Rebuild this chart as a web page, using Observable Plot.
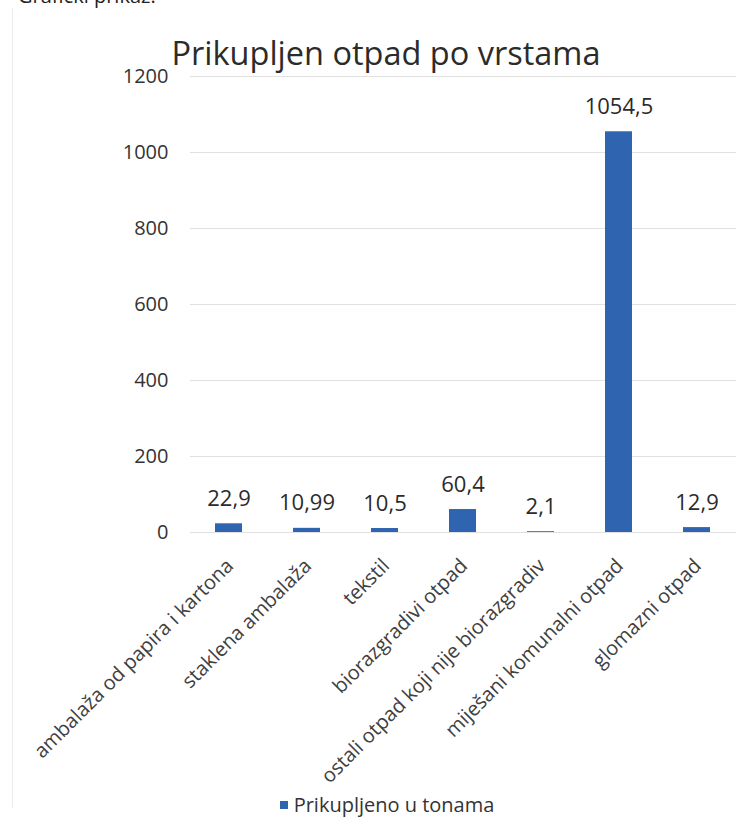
<!DOCTYPE html>
<html>
<head>
<meta charset="utf-8">
<script src="https://cdn.jsdelivr.net/npm/d3@7"></script>
<script src="https://cdn.jsdelivr.net/npm/@observablehq/plot@0.6"></script>
<style>
  html, body { margin: 0; padding: 0; background: #fff; }
  body { width: 748px; height: 840px; position: relative; overflow: hidden; font-family: "Open Sans", sans-serif; color: #333; }
  #pre { position: absolute; left: 18px; top: -18px; font-size: 20px; color: #222; white-space: nowrap; }
  #frame { position: absolute; left: 12px; top: 8px; width: 1px; height: 800px; background: #ececec; }
  #title { position: absolute; left: 0; width: 772px; top: 30px; text-align: center; font-size: 32.5px; color: #2b2b2b; white-space: nowrap; }
  #chart { position: absolute; left: 0; top: 0; }
  #legend { position: absolute; left: 0; width: 774px; top: 791px; text-align: center; font-size: 20px; color: #333; white-space: nowrap; }
  #legend .sw { display: inline-block; width: 8px; height: 8px; background: #2f64b0; margin-right: 6px; vertical-align: 3px; }
</style>
</head>
<body>
<div id="pre">Grafički prikaz:</div>
<div id="frame"></div>
<div id="chart"></div>
<div id="title">Prikupljen otpad po vrstama</div>
<div id="legend"><span class="sw"></span>Prikupljeno u tonama</div>
<script>
const categories = [
  "ambalaža od papira i kartona",
  "staklena ambalaža",
  "tekstil",
  "biorazgradivi otpad",
  "ostali otpad koji nije biorazgradiv",
  "miješani komunalni otpad",
  "glomazni otpad"
];
const values = [22.9, 10.99, 10.5, 60.4, 2.1, 1054.5, 12.9];
const yTicks = [0, 200, 400, 600, 800, 1000, 1200];
const seriesName = "Prikupljeno u tonama";

const data = categories.map((c, i) => ({category: c, value: values[i]}));
const fmt = v => String(v).replace(".", ",");

const chart = Plot.plot({
  width: 748,
  height: 840,
  marginLeft: 190,
  marginRight: 12,
  marginTop: 76,
  marginBottom: 308,
  style: {fontFamily: "Open Sans, sans-serif", color: "#333", background: "transparent"},
  x: {domain: categories, paddingInner: 0.65, paddingOuter: 0.325, label: null},
  y: {domain: [0, 1200], label: null},
  marks: [
    Plot.gridY(yTicks, {stroke: "#d9d9d9", strokeOpacity: 0.8}),
    Plot.axisY(yTicks, {tickSize: 0, tickPadding: 22, fontSize: 20, label: null, tickFormat: d => String(d)}),
    Plot.axisX({tickSize: 0, tickPadding: 30, tickRotate: -45, fontSize: 20, label: null, dx: 1, fill: "#404040"}),
    Plot.barY(data, {x: "category", y: "value", fill: "#2f64b0"}),
    Plot.text(data, {x: "category", y: "value", text: d => fmt(d.value), dy: -25, fontSize: 22, fill: "#2b2b2b"})
  ]
});
document.getElementById("chart").appendChild(chart);
</script>
</body>
</html>
